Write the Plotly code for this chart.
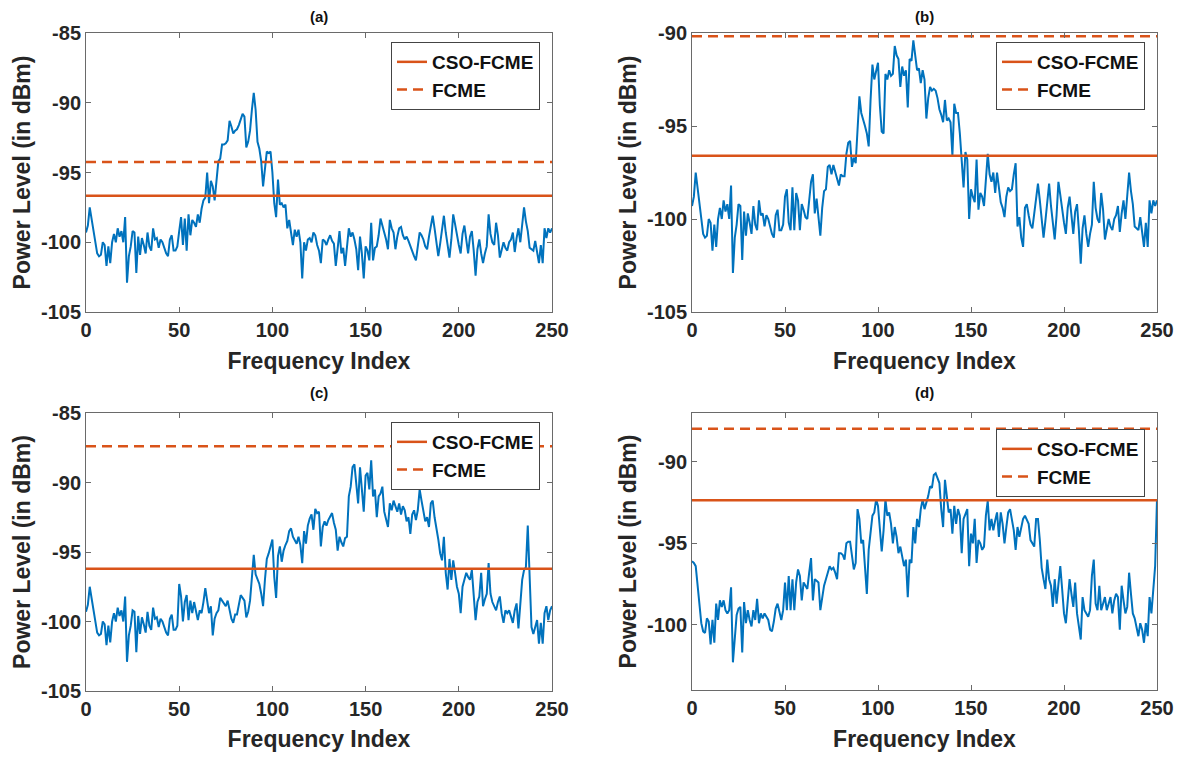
import plotly.graph_objects as go

freq_index = list(range(251))

power_a = [
    -99.3, -98.8, -97.5, -98.4, -99.3, -100.2, -100.8, -101.0, -100.9, -100.0,
    -100.2, -101.7, -100.3, -101.5, -100.0, -99.4, -100.0, -99.0, -99.6, -99.2,
    -100.0, -98.2, -102.9, -101.0, -100.3, -99.2, -99.3, -102.2, -99.6, -100.9,
    -99.7, -100.2, -100.8, -99.3, -100.3, -100.6, -99.0, -99.8, -99.7, -100.4,
    -99.8, -100.0, -100.5, -100.8, -101.0, -99.8, -99.5, -100.6, -100.6, -100.3,
    -99.2, -98.2, -100.2, -98.3, -100.6, -98.0, -99.5, -98.4, -98.6, -98.9,
    -98.0, -98.6, -97.6, -97.0, -96.8, -95.0, -97.2, -95.6, -96.0, -97.0,
    -95.6, -94.2, -94.0, -93.0, -93.0, -92.9, -92.7, -91.3, -91.7, -92.2,
    -92.0, -91.9, -91.6, -91.2, -90.8, -91.0, -93.2, -92.8, -92.0, -90.5,
    -89.3, -90.5, -92.8, -93.3, -94.2, -96.0, -94.6, -93.5, -93.6, -93.5,
    -95.0, -97.2, -98.2, -95.5, -97.3, -97.2, -97.5, -97.3, -99.0, -98.4,
    -99.3, -100.2, -99.1, -99.6, -99.1, -100.0, -102.6, -100.0, -100.6, -99.8,
    -99.7, -100.0, -99.3, -99.5, -100.2, -100.6, -101.5, -99.8, -99.9, -100.2,
    -99.8, -99.5, -99.9, -100.1, -101.7, -100.2, -99.2, -100.8, -100.4, -101.7,
    -100.2, -99.0, -99.6, -99.3, -99.8, -100.5, -102.0, -99.6, -100.8, -102.6,
    -100.3, -100.6, -101.3, -98.6, -101.3, -100.4, -100.3, -99.5, -98.3, -98.9,
    -99.3, -99.8, -100.5, -98.4, -99.0, -99.3, -100.5, -99.6, -99.0, -98.9,
    -99.5, -99.8, -99.6, -99.9, -100.3, -100.6, -101.0, -101.3, -100.2, -99.3,
    -99.5, -99.8, -100.3, -100.5, -99.6, -98.8, -98.1, -99.0, -100.2, -101.0,
    -100.1, -99.0, -98.1, -99.3, -100.4, -101.1, -99.8, -98.0, -98.7, -99.6,
    -100.2, -100.8, -99.4, -98.8, -100.0, -100.8, -99.6, -99.2, -100.6, -102.4,
    -100.5, -99.8, -100.8, -101.5, -100.8, -100.3, -98.0, -99.4, -100.0, -100.2,
    -98.6, -99.5, -101.1, -100.6, -100.0, -100.4, -100.6, -100.0, -99.8, -99.3,
    -100.7, -99.7, -99.0, -100.0, -98.8, -97.5, -98.5, -99.2, -100.4, -100.5,
    -100.6, -99.9, -100.6, -101.5, -100.2, -101.5, -99.0, -99.7, -99.0, -99.3,
    -99.0,
]

power_b = [
    -99.3, -98.8, -97.5, -98.4, -99.3, -100.2, -100.8, -101.0, -100.9, -100.0,
    -100.2, -101.7, -100.3, -101.5, -100.0, -99.4, -100.0, -99.0, -99.6, -99.2,
    -100.0, -98.2, -102.9, -101.0, -100.3, -99.2, -99.3, -102.2, -99.6, -100.9,
    -99.7, -100.2, -100.8, -99.3, -100.3, -100.6, -99.0, -99.8, -99.7, -100.4,
    -99.8, -100.0, -100.5, -100.8, -101.0, -99.8, -99.5, -100.6, -100.6, -100.3,
    -98.8, -98.4, -100.2, -100.6, -98.3, -100.6, -98.6, -99.0, -100.6, -99.2,
    -99.5, -99.9, -100.0, -99.0, -98.0, -97.6, -99.7, -98.9, -100.1, -100.9,
    -99.4, -98.5, -98.4, -97.2, -97.1, -97.6, -97.1, -97.5, -97.9, -98.2,
    -97.6, -97.7, -97.7, -96.5, -95.9, -95.8, -97.2, -96.7, -97.0, -95.0,
    -93.4, -94.3, -94.6, -95.0, -95.4, -96.1, -93.6, -91.7, -92.5, -92.0,
    -91.6, -93.9, -95.3, -95.4, -92.2, -92.5, -92.0, -92.3, -92.2, -90.7,
    -91.2, -91.4, -92.9, -91.8, -92.3, -92.0, -94.0, -91.4, -91.5, -90.4,
    -91.3, -92.0, -91.9, -92.7, -92.0, -92.5, -94.6, -93.5, -92.9, -93.1,
    -93.0, -93.1, -93.5, -94.1, -94.4, -94.8, -93.6, -94.7, -94.6, -94.8,
    -96.6, -93.8, -94.3, -94.3, -95.4, -96.8, -98.3, -96.4, -96.8, -100.0,
    -98.4, -98.8, -99.1, -96.8, -99.5, -98.6, -98.8, -99.3, -98.0, -96.5,
    -97.6, -98.0, -97.5, -98.6, -97.5, -98.4, -99.1, -99.4, -99.9, -98.8,
    -98.3, -98.5, -98.4, -97.6, -97.0, -100.4, -99.9, -101.0, -101.5, -99.4,
    -99.2, -99.8, -100.3, -100.5, -99.6, -98.8, -98.1, -99.0, -100.2, -101.0,
    -100.1, -99.0, -98.1, -99.3, -100.4, -101.1, -99.8, -98.0, -98.7, -99.6,
    -100.2, -100.8, -99.4, -98.8, -100.0, -100.8, -99.6, -99.2, -100.6, -102.4,
    -100.5, -99.8, -100.8, -101.5, -100.8, -100.3, -98.0, -99.4, -100.0, -100.2,
    -98.6, -99.5, -101.1, -100.6, -100.0, -100.4, -100.6, -100.0, -99.8, -99.3,
    -100.7, -99.7, -99.0, -100.0, -98.8, -97.5, -98.5, -99.2, -100.4, -100.5,
    -100.6, -99.9, -100.6, -101.5, -100.2, -101.5, -99.0, -99.7, -99.0, -99.3,
    -99.0,
]

power_c = [
    -99.3, -98.8, -97.5, -98.4, -99.3, -100.2, -100.8, -101.0, -100.9, -100.0,
    -100.2, -101.7, -100.3, -101.5, -100.0, -99.4, -100.0, -99.0, -99.6, -99.2,
    -100.0, -98.2, -102.9, -101.0, -100.3, -99.2, -99.3, -102.2, -99.6, -100.9,
    -99.7, -100.2, -100.8, -99.3, -100.3, -100.6, -99.0, -99.8, -99.7, -100.4,
    -99.8, -100.0, -100.5, -100.8, -101.0, -99.8, -99.5, -100.6, -100.6, -100.3,
    -97.3, -98.2, -100.0, -98.6, -98.1, -99.9, -98.5, -99.4, -98.6, -99.4,
    -99.9, -99.2, -99.4, -98.6, -97.6, -98.5, -99.4, -98.9, -101.0, -99.8,
    -99.4, -99.2, -98.3, -98.5, -98.7, -98.9, -98.5, -99.2, -99.8, -100.1,
    -99.5, -99.5, -98.9, -98.1, -98.3, -98.5, -99.7, -99.3, -98.5, -96.5,
    -95.2, -96.6, -97.0, -97.3, -98.0, -98.9, -97.0, -95.5, -95.1, -94.6,
    -94.1, -96.8, -98.3, -95.3, -94.6, -95.7, -94.9, -94.5, -94.2, -93.5,
    -93.3, -93.9, -94.2, -94.4, -93.9, -94.5, -95.8, -93.5, -94.4, -93.1,
    -92.6, -92.3, -93.4, -91.9, -92.2, -92.1, -94.6, -93.2, -92.8, -93.1,
    -92.7, -92.4, -92.2, -92.9, -93.4, -94.9, -93.9, -94.3, -94.6, -94.0,
    -93.9, -91.0, -90.3, -88.9, -88.7, -90.1, -91.5, -88.9, -90.3, -92.1,
    -89.5, -89.3, -90.5, -88.4, -91.0, -90.5, -92.5, -91.0, -90.8, -90.3,
    -92.1, -92.6, -93.2, -91.5, -92.0, -91.3, -91.8, -92.1, -91.5, -92.3,
    -91.7, -92.0, -92.8, -92.5, -93.7, -92.3, -92.0, -92.7, -92.0, -90.5,
    -91.3, -92.0, -92.8, -92.5, -93.2, -91.5, -91.3, -92.5, -93.2, -94.1,
    -95.1, -95.6, -93.9, -96.5, -97.7, -95.5, -97.0, -95.6, -96.5, -97.5,
    -98.0, -99.4, -97.5, -97.0, -96.5, -96.8, -97.0, -96.3, -98.2, -99.9,
    -98.6, -98.2, -96.5, -98.9, -98.4, -98.0, -95.8, -98.0, -98.6, -98.9,
    -99.2, -98.6, -98.2, -99.4, -100.1, -99.2, -99.4, -99.2, -99.6, -100.1,
    -99.2, -98.7, -100.5, -98.5, -97.0, -96.3, -96.1, -93.1, -96.5, -100.4,
    -100.9, -100.4, -99.9, -101.6, -100.1, -101.6, -99.4, -98.9, -99.9, -99.2,
    -98.9,
]

power_d = [
    -96.1, -96.2, -96.4, -97.6, -99.0, -99.9, -100.4, -100.5, -99.6, -99.8,
    -101.2, -99.7, -101.1, -98.7, -99.7, -98.5, -98.9, -98.5, -99.1, -99.3,
    -99.1, -97.7, -102.3, -100.6, -99.4, -99.0, -98.9, -101.7, -98.6, -99.9,
    -99.1, -99.7, -100.1, -99.1, -99.7, -98.4, -99.9, -99.3, -99.6, -99.3,
    -99.5, -99.7, -100.3, -100.4, -99.8, -99.0, -98.7, -99.2, -99.7, -99.1,
    -97.4, -99.1, -97.0, -99.1, -97.2, -99.1, -97.4, -96.6, -97.0, -98.5,
    -97.4, -97.6, -97.8, -96.8, -95.9, -98.5, -97.2, -97.3, -97.4, -99.1,
    -98.3, -97.6, -97.2, -96.8, -96.4, -96.6, -96.5, -96.8, -97.2, -95.6,
    -95.6, -95.7, -96.0, -95.0, -94.9, -94.9, -95.8, -96.6, -96.2, -92.9,
    -93.5, -95.0, -94.8, -96.4, -98.1, -95.4, -94.3, -93.3, -93.1, -92.3,
    -92.7, -94.0, -95.5, -94.2, -92.3, -93.3, -93.1, -93.8, -95.0, -94.0,
    -94.6, -95.6, -95.2, -95.8, -96.4, -96.0, -98.3, -96.0, -96.2, -94.0,
    -95.0, -93.5, -94.0, -92.9, -92.3, -92.9, -92.5, -92.1, -91.5, -91.6,
    -90.8, -90.7, -91.0, -91.3, -92.9, -94.0, -91.1, -92.3, -93.1, -92.9,
    -94.4, -92.7, -93.8, -92.9, -93.3, -95.6, -93.5, -93.2, -92.9, -96.4,
    -94.4, -95.0, -93.5, -96.2, -94.8, -95.0, -95.4, -95.2, -93.3, -92.4,
    -94.2, -93.5, -94.2, -93.6, -93.1, -94.6, -93.1, -93.8, -95.0, -94.0,
    -93.1, -92.9, -93.5, -94.2, -95.4, -94.0, -94.6, -94.0, -93.5, -93.3,
    -93.6, -93.8, -94.8, -95.0, -95.2, -93.5, -93.5, -94.8, -96.5, -97.2,
    -97.8, -96.0, -97.2, -97.6, -98.9, -97.2, -98.7, -97.5, -96.4, -97.8,
    -99.3, -99.9, -98.5, -97.2, -98.1, -98.9, -97.4, -99.3, -100.1, -100.9,
    -98.3, -99.1, -99.3, -99.5, -99.1, -97.0, -96.0, -98.7, -99.1, -97.6,
    -99.1, -98.7, -98.3, -99.1, -98.7, -98.3, -99.3, -98.5, -98.1, -98.3,
    -100.3, -97.6, -98.5, -99.3, -98.9, -96.8, -98.1, -99.3, -99.6, -100.1,
    -100.7, -99.9, -100.3, -101.1, -99.9, -100.7, -98.3, -99.3, -97.6, -96.4,
    -92.3,
]

cso_fcme_threshold = [-96.66, -96.6, -96.2, -92.36]
fcme_threshold = [-94.25, -90.18, -87.4, -87.97]
panel_labels = ["(a)", "(b)", "(c)", "(d)"]
x_ticks = [0, 50, 100, 150, 200, 250]
y_ticks = [
    [-105, -100, -95, -90, -85],
    [-105, -100, -95, -90],
    [-105, -100, -95, -90, -85],
    [-100, -95, -90],
]
y_ranges = [[-105, -85], [-105, -90], [-105, -85], [-104, -87]]
series = [power_a, power_b, power_c, power_d]

# The page body has an 8px margin: figure is drawn at (8, 8) in the window.
OFF = 8
W, H = 1184 - 2 * OFF, 760 - 2 * OFF
FONT = "Liberation Sans, Arial, Helvetica, sans-serif"
BLUE = "#0072BD"
ORANGE = "#D95319"
TXT = "#262626"
AXC = "#6a6a6a"


def px(x):
    return (x - OFF) / W


def py(y):
    return 1 - (y - OFF) / H


# plot-area boxes in window pixels (left, right, top, bottom)
boxes = [
    (86, 552, 33, 312),
    (692, 1157, 33, 312),
    (86, 552, 413, 691),
    (692, 1157, 413, 690),
]
legend_pos = [(540, 42), (1145, 42), (540, 422), (1145, 429)]
label_y = [17, 17, 392, 392]

fig = go.Figure()
layout = dict(
    width=W, height=H,
    margin=dict(l=0, r=0, t=0, b=0),
    paper_bgcolor="white", plot_bgcolor="white",
    font=dict(family=FONT, color=TXT),
    showlegend=True,
    annotations=[],
)

for i in range(4):
    sfx = "" if i == 0 else str(i + 1)
    xa = "x" + sfx
    ya = "y" + sfx
    lg = "legend" + sfx
    fig.add_trace(go.Scatter(
        x=freq_index, y=series[i], mode="lines",
        line=dict(color=BLUE, width=2), xaxis=xa, yaxis=ya,
        showlegend=False, hoverinfo="x+y",
    ))
    fig.add_trace(go.Scatter(
        x=[x_ticks[0], x_ticks[-1]], y=[cso_fcme_threshold[i]] * 2, mode="lines",
        line=dict(color=ORANGE, width=2.5), name="CSO-FCME",
        xaxis=xa, yaxis=ya, legend=lg,
    ))
    fig.add_trace(go.Scatter(
        x=[x_ticks[0], x_ticks[-1]], y=[fcme_threshold[i]] * 2, mode="lines",
        line=dict(color=ORANGE, width=2.5, dash="10px,6px"), name="FCME",
        xaxis=xa, yaxis=ya, legend=lg,
    ))
    l, r, t, b = boxes[i]
    common = dict(
        showline=True, linecolor=AXC, linewidth=1, mirror="ticks",
        ticks="inside", ticklen=5, tickcolor=AXC, showgrid=False, zeroline=False,
        tickfont=dict(family=FONT, size=20, color=TXT, weight="bold"),
        automargin=False,
    )
    layout["xaxis" + sfx] = dict(
        common, domain=[px(l), px(r)], range=[0, 250],
        tickvals=x_ticks, ticktext=[str(v) for v in x_ticks],
        anchor=ya,
        title=dict(text="Frequency Index", standoff=12,
                   font=dict(family=FONT, size=23, color=TXT, weight="bold")),
    )
    layout["yaxis" + sfx] = dict(
        common, domain=[py(b), py(t)], range=y_ranges[i],
        tickvals=y_ticks[i], ticktext=[str(v) for v in y_ticks[i]],
        anchor=xa,
        title=dict(text="Power Level (in dBm)", standoff=3,
                   font=dict(family=FONT, size=23, color=TXT, weight="bold")),
    )
    lx, ly = legend_pos[i]
    layout[lg] = dict(
        x=px(lx), y=py(ly), xanchor="right", yanchor="top",
        bgcolor="white", bordercolor="#444444", borderwidth=1,
        font=dict(family=FONT, size=19, color="#111111", weight="bold"),
        tracegroupgap=0,
    )
    layout["annotations"].append(dict(
        text=panel_labels[i], x=px((l + r) / 2), y=py(label_y[i]),
        xref="paper", yref="paper", showarrow=False, xanchor="center", yanchor="middle",
        font=dict(family=FONT, size=15, color="#111111", weight="bold"),
    ))

fig.update_layout(**layout)
fig.write_html("out.html")
